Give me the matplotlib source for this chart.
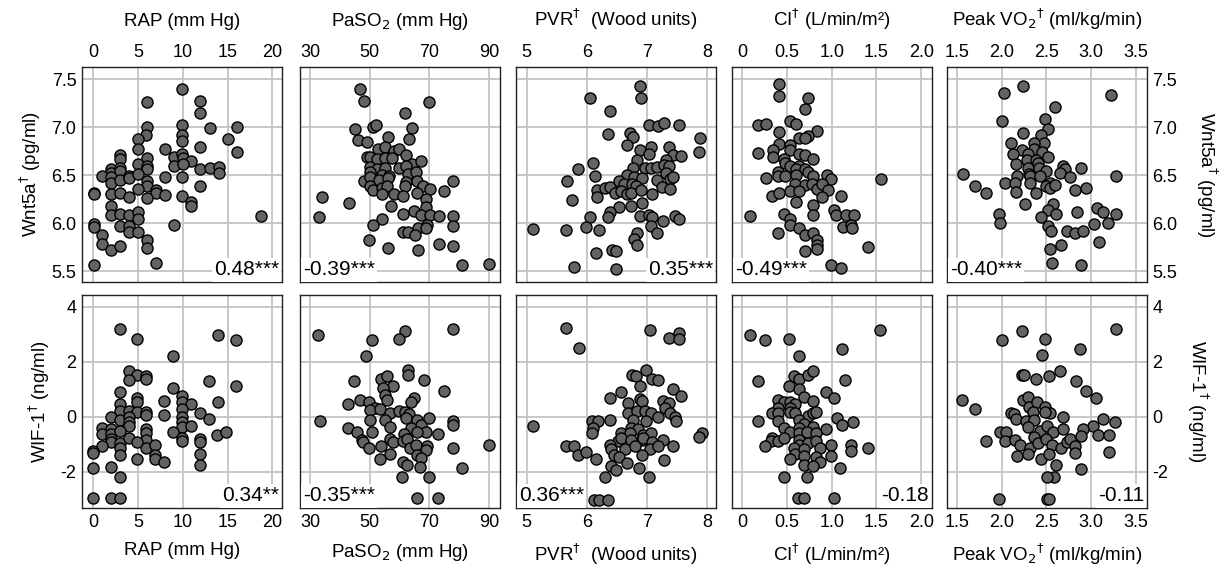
import matplotlib.pyplot as plt

plt.rcParams['font.family'] = ['Liberation Sans', 'DejaVu Sans']
plt.rcParams['axes.unicode_minus'] = False

# ---- Wnt5a row ----
rap_wnt_x = [9.93, 6.02, 11.97, 11.97, 6.02, 5.95, 5.02, 9.93, 9.93, 9.93, 13.0, 16.0, 15.0, 16.0,
             5.02, 7.99, 11.97, 3.05, 3.05, 6.02, 9.0, 9.93, 10.04, 10.97, 9.0, 10.04, 11.97, 13.0,
             14.0, 14.0, 5.02, 6.02, 6.02, 2.04, 2.04, 3.05, 3.05, 1.0, 2.04, 2.04, 3.05, 4.01, 4.01,
             5.02, 6.02, 6.02, 7.99, 9.93, 11.97, 5.02, 6.99, 6.99, 7.99, 9.93, 10.97, 10.97, 0.07,
             0.07, 2.04, 3.05, 4.01, 6.02, 2.04, 2.04, 3.05, 4.01, 5.02, 5.02, 3.05, 4.01, 4.01, 5.02,
             9.0, 6.02, 6.02, 0.07, 0.07, 1.0, 1.0, 2.04, 3.05, 6.99, 0.07, 18.7]
rap_wnt_y = [7.40, 7.26, 7.27, 7.15, 7.0, 6.92, 6.88, 7.02, 6.92, 6.86, 6.99, 7.0, 6.875, 6.74,
             6.77, 6.77, 6.79, 6.71, 6.67, 6.68, 6.69, 6.72, 6.68, 6.65, 6.60, 6.62, 6.56, 6.58,
             6.59, 6.52, 6.62, 6.60, 6.56, 6.56, 6.52, 6.57, 6.54, 6.49, 6.48, 6.42, 6.45, 6.49, 6.47,
             6.51, 6.44, 6.39, 6.48, 6.48, 6.39, 6.36, 6.35, 6.32, 6.29, 6.28, 6.22, 6.18, 6.32,
             6.30, 6.30, 6.32, 6.27, 6.26, 6.18, 6.09, 6.10, 6.09, 6.12, 6.04, 5.97, 5.97, 5.91, 5.91,
             5.98, 5.83, 5.74, 5.99, 5.96, 5.88, 5.79, 5.72, 5.76, 5.59, 5.57, 6.08]

pao2_wnt_x = [46.8, 48.2, 69.9, 61.9, 45.1, 51.0, 52.1, 64.0, 63.2, 46.0, 49.1, 56.0, 52.9, 55.1,
              58.0, 59.8, 62.1, 49.0, 50.2, 52.4, 55.1, 57.3, 64.0, 67.1, 50.0, 52.3, 55.1, 59.8,
              62.1, 50.0, 54.1, 56.5, 62.7, 65.5, 48.2, 50.2, 53.2, 56.0, 62.1, 65.8, 50.0, 51.1,
              54.1, 55.8, 61.9, 67.9, 70.2, 78.0, 75.0, 54.1, 58.0, 61.0, 65.8, 68.8, 33.9, 42.9,
              57.1, 68.8, 64.9, 61.0, 67.1, 70.2, 73.1, 77.7, 33.1, 54.1, 51.0, 69.0, 66.0, 77.7,
              61.0, 62.9, 65.3, 68.8, 49.9, 56.0, 66.0, 73.1, 77.7, 80.9, 90.0]
pao2_wnt_y = [7.40, 7.27, 7.26, 7.15, 6.98, 7.0, 7.02, 6.99, 6.88, 6.87, 6.85, 6.90, 6.77, 6.79,
              6.75, 6.77, 6.71, 6.69, 6.69, 6.67, 6.68, 6.68, 6.62, 6.65, 6.59, 6.56, 6.57, 6.57,
              6.60, 6.53, 6.50, 6.49, 6.51, 6.53, 6.44, 6.48, 6.45, 6.47, 6.43, 6.44, 6.39, 6.35,
              6.37, 6.39, 6.39, 6.39, 6.36, 6.44, 6.34, 6.30, 6.30, 6.28, 6.31, 6.25, 6.27, 6.21,
              6.18, 6.17, 6.13, 6.10, 6.09, 6.09, 6.08, 6.08, 6.07, 6.04, 5.98, 5.98, 5.95, 5.97,
              5.91, 5.91, 5.88, 5.95, 5.83, 5.74, 5.72, 5.79, 5.76, 5.57, 5.58]

pvr_wnt_x = [6.88, 6.90, 6.06, 6.39, 7.04, 7.19, 7.29, 7.53, 6.36, 6.72, 6.77, 6.67, 7.89, 7.86,
             6.89, 7.06, 7.04, 7.36, 7.43, 7.56, 6.83, 7.32, 6.11, 5.85, 6.76, 6.96, 7.06, 7.17,
             7.28, 7.36, 6.13, 5.67, 6.67, 6.78, 6.92, 7.17, 7.32, 7.39, 7.44, 6.17, 6.31, 6.39,
             6.54, 6.62, 6.75, 6.81, 6.47, 6.56, 6.67, 6.74, 6.90, 7.25, 7.39, 6.17, 5.75, 7.08,
             6.92, 6.54, 6.73, 6.39, 6.36, 6.06, 6.88, 7.04, 7.08, 7.47, 7.53, 7.27, 5.11, 5.65,
             5.99, 6.21, 7.06, 7.16, 6.83, 6.79, 6.84, 6.15, 6.42, 6.49, 5.79, 6.49]
pvr_wnt_y = [7.43, 7.30, 7.30, 7.17, 7.02, 7.01, 7.04, 7.02, 6.93, 6.94, 6.90, 6.81, 6.89, 6.74,
             6.76, 6.79, 6.72, 6.79, 6.71, 6.70, 6.66, 6.66, 6.63, 6.56, 6.58, 6.57, 6.58, 6.59,
             6.61, 6.60, 6.49, 6.44, 6.50, 6.48, 6.47, 6.45, 6.52, 6.46, 6.48, 6.35, 6.37, 6.38,
             6.44, 6.41, 6.41, 6.39, 6.31, 6.34, 6.30, 6.32, 6.35, 6.38, 6.36, 6.27, 6.24, 6.30,
             6.21, 6.17, 6.18, 6.12, 6.07, 6.07, 6.08, 6.09, 6.07, 6.08, 6.05, 6.02, 5.94, 5.93,
             5.96, 5.93, 5.97, 5.90, 5.90, 5.84, 5.77, 5.69, 5.72, 5.71, 5.55, 5.53]

ci_wnt_x = [0.41, 0.41, 0.74, 0.70, 0.18, 0.27, 0.53, 0.60, 0.41, 0.84, 0.74, 0.64, 0.70, 0.41,
            0.53, 0.53, 0.18, 0.34, 0.34, 0.64, 0.70, 0.79, 0.47, 0.48, 0.53, 0.64, 0.60, 0.70,
            0.74, 0.40, 0.40, 0.48, 0.27, 0.60, 0.79, 0.95, 0.99, 1.55, 0.59, 0.70, 0.78, 0.84,
            0.89, 0.54, 0.64, 0.96, 0.33, 0.41, 0.89, 1.10, 0.60, 0.79, 1.03, 1.05, 1.16, 1.25,
            0.79, 0.47, 0.53, 0.09, 0.53, 0.64, 1.13, 1.22, 1.23, 0.70, 0.79, 0.84, 0.84, 0.84,
            0.70, 0.40, 1.41, 0.99, 1.10]
ci_wnt_y = [7.45, 7.32, 7.30, 7.19, 7.02, 7.03, 7.06, 7.03, 6.95, 6.96, 6.91, 6.89, 6.89, 6.82,
            6.81, 6.76, 6.73, 6.76, 6.69, 6.72, 6.71, 6.67, 6.67, 6.63, 6.60, 6.60, 6.56, 6.56,
            6.53, 6.53, 6.49, 6.49, 6.47, 6.50, 6.49, 6.50, 6.46, 6.46, 6.41, 6.40, 6.41, 6.36,
            6.41, 6.34, 6.34, 6.35, 6.28, 6.31, 6.27, 6.28, 6.22, 6.19, 6.14, 6.09, 6.09, 6.09,
            6.09, 6.10, 6.05, 6.08, 5.98, 5.95, 5.96, 5.98, 5.95, 5.88, 5.90, 5.83, 5.77, 5.73,
            5.71, 5.90, 5.75, 5.57, 5.54]

vo2_wnt_x = [2.235, 2.03, 3.22, 2.60, 2.0, 2.49, 2.52, 2.235, 2.44, 2.47, 2.10, 2.36, 2.36, 2.23,
             2.13, 2.29, 2.45, 2.52, 2.16, 2.28, 2.38, 2.41, 2.29, 2.42, 2.50, 2.69, 2.71, 2.65,
             2.89, 1.57, 2.31, 2.32, 2.43, 2.17, 2.77, 3.28, 1.70, 2.04, 2.15, 2.32, 2.54, 1.82,
             2.16, 2.50, 2.54, 2.60, 2.82, 2.94, 2.38, 2.26, 2.57, 2.52, 2.61, 2.84, 3.07, 3.14,
             3.28, 1.97, 1.98, 2.44, 3.19, 3.03, 2.52, 2.55, 2.73, 2.82, 2.91, 2.66, 2.54, 3.09,
             2.56, 2.89]
vo2_wnt_y = [7.43, 7.35, 7.33, 7.21, 7.06, 7.08, 6.98, 6.94, 6.92, 6.83, 6.84, 6.83, 6.77, 6.76,
             6.72, 6.72, 6.74, 6.69, 6.62, 6.66, 6.66, 6.63, 6.58, 6.57, 6.54, 6.60, 6.56, 6.52,
             6.57, 6.51, 6.51, 6.49, 6.49, 6.49, 6.48, 6.49, 6.39, 6.42, 6.42, 6.42, 6.42, 6.32,
             6.33, 6.39, 6.37, 6.40, 6.35, 6.37, 6.31, 6.20, 6.20, 6.14, 6.10, 6.12, 6.16, 6.12,
             6.10, 6.10, 6.0, 6.07, 6.0, 5.99, 5.97, 5.92, 5.92, 5.90, 5.92, 5.77, 5.73, 5.81,
             5.59, 5.57]

# ---- WIF-1 row ----
rap_wif_x = [2.97, 4.94, 13.94, 15.91, 8.92, 3.98, 4.94, 5.95, 5.95, 3.98, 12.9, 15.91, 8.92, 2.97,
             4.94, 4.94, 7.92, 9.93, 9.93, 10.9, 13.94, 2.97, 2.97, 3.98, 4.94, 5.95, 5.95, 7.92,
             9.93, 11.9, 12.9, 2.0, 2.97, 3.98, 3.98, 3.98, 9.93, 9.93, 9.93, 10.9, 1.0, 1.0, 2.0,
             2.0, 2.0, 2.0, 2.97, 2.97, 2.97, 2.97, 5.95, 5.95, 5.95, 5.95, 3.98, 4.94, 4.94, 6.95,
             6.95, 6.95, 7.92, 8.92, 9.93, 9.93, 11.9, 11.9, 11.9, 11.9, 13.87, 14.87, 1.0, 0.0,
             0.0, 0.0, 2.0, 2.97, 0.0, 2.0, 2.97]
rap_wif_y = [3.18, 2.82, 2.99, 2.81, 2.22, 1.66, 1.52, 1.49, 1.36, 1.33, 1.30, 1.12, 1.03, 0.91,
             0.70, 0.55, 0.58, 0.75, 0.55, 0.45, 0.52, 0.46, 0.21, 0.21, 0.16, 0.16, 0.08, 0.08,
             0.30, 0.12, -0.08, -0.02, -0.12, -0.02, -0.18, -0.33, 0.0, -0.18, -0.36, -0.33, -0.42,
             -0.64, -0.45, -0.61, -0.81, -0.91, -0.51, -0.97, -1.13, -1.39, -0.45, -0.58, -0.85,
             -1.15, -0.79, -0.91, -1.52, -1.01, -1.39, -1.52, -1.64, -0.55, -0.79, -0.88, -0.81,
             -0.91, -1.37, -1.76, -0.67, -0.57, -1.05, -1.24, -1.33, -1.88, -1.82, -2.21, -2.97,
             -2.97, -2.97]

pao2_wif_x = [32.8, 61.8, 59.7, 50.7, 78.0, 48.8, 62.8, 62.8, 53.7, 55.8, 44.7, 68.0, 57.8, 54.6,
              74.7, 46.7, 42.8, 49.8, 55.2, 55.8, 64.8, 63.9, 51.8, 50.1, 53.5, 56.9, 59.7, 61.9,
              63.0, 50.1, 55.0, 56.7, 62.3, 65.9, 67.1, 69.9, 78.0, 78.0, 33.5, 42.8, 45.8, 50.7,
              63.9, 68.8, 72.7, 65.9, 61.4, 47.3, 47.9, 49.8, 56.9, 57.8, 61.2, 62.5, 53.7, 63.6,
              65.4, 69.1, 68.8, 90.0, 78.0, 56.7, 53.5, 65.9, 67.1, 61.2, 62.5, 66.8, 81.0, 60.8,
              69.9, 65.7, 72.7]
pao2_wif_y = [2.99, 3.13, 2.82, 2.79, 3.19, 2.22, 1.70, 1.52, 1.37, 1.49, 1.30, 1.33, 1.12, 1.03,
              0.93, 0.61, 0.45, 0.52, 0.79, 0.61, 0.69, 0.55, 0.33, 0.24, 0.30, 0.12, 0.21, 0.18,
              0.10, -0.12, -0.12, -0.36, -0.06, -0.12, -0.30, -0.06, -0.16, -0.30, -0.16, -0.40,
              -0.57, -0.55, -0.40, -0.55, -0.64, -0.55, -0.64, -0.85, -0.91, -1.13, -0.81, -0.91,
              -0.88, -0.81, -1.05, -1.13, -1.03, -1.05, -1.21, -1.01, -1.13, -1.37, -1.54, -1.39,
              -1.49, -1.64, -1.76, -1.82, -1.88, -2.18, -2.18, -2.95, -2.95]

pvr_wif_x = [5.66, 7.05, 7.53, 7.37, 7.54, 5.87, 6.98, 6.75, 6.81, 7.08, 7.19, 6.88, 7.43, 7.57,
             6.56, 6.38, 6.88, 6.91, 6.69, 7.26, 7.36, 7.30, 6.69, 6.84, 6.97, 7.07, 7.19, 7.39,
             7.47, 7.49, 6.76, 6.98, 6.08, 6.18, 6.11, 6.08, 6.38, 5.11, 6.74, 6.85, 6.56, 6.72,
             6.93, 7.07, 7.91, 7.87, 6.51, 6.56, 6.73, 6.91, 6.94, 7.08, 7.26, 6.38, 6.40, 6.63,
             6.80, 7.05, 7.19, 7.43, 5.65, 5.79, 5.86, 5.99, 6.15, 6.46, 6.54, 6.91, 7.28, 6.67,
             6.40, 6.49, 6.87, 6.31, 7.04, 6.12, 6.21, 6.35]
pvr_wif_y = [3.22, 3.17, 3.04, 2.85, 2.83, 2.50, 1.71, 1.51, 1.49, 1.37, 1.34, 1.12, 1.02, 0.76,
             0.90, 0.70, 0.63, 0.57, 0.49, 0.57, 0.49, 0.33, 0.12, 0.21, 0.21, 0.15, -0.01, 0.12,
             0.0, -0.16, -0.10, -0.16, -0.16, -0.16, -0.40, -0.59, -0.13, -0.32, -0.40, -0.46,
             -0.59, -0.59, -0.65, -0.59, -0.59, -0.73, -0.89, -0.77, -0.83, -0.85, -0.77, -0.93,
             -0.85, -1.01, -1.17, -1.17, -1.05, -1.17, -1.05, -1.05, -1.05, -1.07, -1.38, -1.28,
             -1.52, -1.38, -1.46, -1.38, -1.56, -1.68, -1.80, -1.93, -1.87, -2.21, -2.21, -3.02,
             -3.02, -3.02]

ci_wif_x = [0.09, 0.26, 0.52, 1.54, 1.12, 0.64, 0.18, 0.58, 0.64, 0.74, 0.79, 1.15, 0.52, 0.64,
            0.94, 1.03, 0.69, 0.79, 0.40, 0.47, 0.53, 0.59, 0.40, 0.53, 0.33, 0.40, 0.53, 0.59,
            0.74, 0.79, 0.83, 0.18, 0.40, 0.64, 0.69, 0.79, 1.06, 1.12, 1.24, 0.94, 0.47, 0.53,
            0.64, 0.64, 0.72, 0.83, 0.33, 0.32, 0.40, 0.47, 0.26, 0.64, 0.64, 0.74, 0.83, 0.87,
            0.99, 1.22, 1.22, 1.41, 0.58, 0.59, 0.69, 0.69, 0.53, 0.82, 0.87, 0.99, 0.69, 0.79,
            1.09, 0.47, 0.73, 0.63, 0.69, 1.03]
ci_wif_y = [2.99, 2.81, 2.83, 3.17, 2.45, 2.20, 1.29, 1.48, 1.36, 1.51, 1.65, 1.33, 1.12, 1.02,
            0.90, 0.69, 0.72, 0.58, 0.60, 0.54, 0.52, 0.48, 0.33, 0.33, 0.12, 0.14, 0.18, 0.12,
            0.04, 0.12, 0.16, -0.16, -0.16, -0.12, -0.28, -0.36, -0.06, -0.30, -0.18, -0.45,
            -0.42, -0.54, -0.42, -0.60, -0.54, -0.60, -0.76, -0.88, -0.90, -0.78, -1.05, -0.84,
            -1.02, -0.96, -0.90, -1.12, -1.02, -1.02, -1.24, -1.14, -1.14, -1.36, -1.17, -1.41,
            -1.53, -1.48, -1.63, -1.42, -1.77, -1.81, -1.87, -2.19, -2.19, -2.95, -2.95, -2.95]

vo2_wif_x = [2.23, 2.0, 2.48, 3.28, 2.88, 2.45, 2.23, 2.25, 2.38, 2.53, 2.65, 2.83, 2.94, 3.06,
             1.56, 1.70, 2.24, 2.29, 2.31, 2.39, 2.49, 2.54, 2.10, 2.14, 2.16, 2.27, 2.35, 2.36,
             2.49, 2.69, 3.13, 3.27, 3.02, 2.29, 1.98, 2.05, 2.43, 2.51, 2.58, 2.69, 2.91, 2.89,
             3.08, 3.20, 1.82, 2.04, 2.15, 2.21, 2.32, 2.36, 2.41, 2.50, 2.56, 2.66, 2.73, 2.77,
             2.82, 2.82, 2.17, 2.29, 2.44, 2.53, 2.61, 2.59, 2.51, 2.89, 3.20, 1.97, 2.51, 2.53]
vo2_wif_y = [3.13, 2.78, 2.83, 3.19, 2.47, 2.23, 1.51, 1.51, 1.36, 1.48, 1.66, 1.30, 0.92, 0.67,
             0.60, 0.30, 0.60, 0.72, 0.34, 0.52, 0.34, 0.12, 0.12, 0.10, -0.08, -0.14, 0.16, -0.12,
             0.16, -0.02, -0.08, -0.18, -0.33, -0.39, -0.54, -0.57, -0.53, -0.33, -0.57, -0.45,
             -0.45, -0.69, -0.65, -0.65, -0.90, -0.87, -0.83, -1.02, -1.13, -0.75, -0.96, -0.81,
             -1.02, -1.14, -0.93, -0.81, -1.05, -1.33, -1.41, -1.37, -1.53, -1.37, -1.77, -2.19,
             -2.19, -1.89, -1.27, -2.98, -2.98, -2.98]

x_labels = ['RAP (mm Hg)', 'PaSO$_2$ (mm Hg)', 'PVR$^{\\dagger}$  (Wood units)',
            'CI$^{\\dagger}$ (L/min/m\u00b2)', 'Peak VO$_2$$^{\\dagger}$ (ml/kg/min)']
x_ticks = [[0, 5, 10, 15, 20], [30, 50, 70, 90], [5, 6, 7, 8],
           [0, 0.5, 1.0, 1.5, 2.0], [1.5, 2.0, 2.5, 3.0, 3.5]]
x_ticklabels = [['0', '5', '10', '15', '20'], ['30', '50', '70', '90'], ['5', '6', '7', '8'],
                ['0', '0.5', '1.0', '1.5', '2.0'], ['1.5', '2.0', '2.5', '3.0', '3.5']]
x_lims = [(-1.23, 21.07), (26.65, 93.6), (4.82, 8.15), (-0.112, 2.12), (1.388, 3.627)]

y_labels = ['Wnt5a$^{\\dagger}$ (pg/ml)', 'WIF-1$^{\\dagger}$ (ng/ml)']
y_ticks = [[5.5, 6.0, 6.5, 7.0, 7.5], [-2, 0, 2, 4]]
y_ticklabels = [['5.5', '6.0', '6.5', '7.0', '7.5'], ['-2', '0', '2', '4']]
y_lims = [(5.39, 7.625), (-3.32, 4.43)]

corr_text = [['0.48***', '-0.39***', '0.35***', '-0.49***', '-0.40***'],
             ['0.34**', '-0.35***', '0.36***', '-0.18', '-0.11']]
corr_side = [['right', 'left', 'right', 'left', 'left'],
             ['right', 'left', 'left', 'right', 'right']]

data = [[(rap_wnt_x, rap_wnt_y), (pao2_wnt_x, pao2_wnt_y), (pvr_wnt_x, pvr_wnt_y),
         (ci_wnt_x, ci_wnt_y), (vo2_wnt_x, vo2_wnt_y)],
        [(rap_wif_x, rap_wif_y), (pao2_wif_x, pao2_wif_y), (pvr_wif_x, pvr_wif_y),
         (ci_wif_x, ci_wif_y), (vo2_wif_x, vo2_wif_y)]]

W, H = 1226, 568
fig = plt.figure(figsize=(W / 100, H / 100), dpi=100)

col_left = [82, 300, 516, 732, 947]
col_w = 200
row_box = [(67, 282), (295, 508)]  # top, bottom in pixels

for r in range(2):
    top, bot = row_box[r]
    for c in range(5):
        ax = fig.add_axes([col_left[c] / W, (H - bot) / H, col_w / W, (bot - top) / H])
        xs, ys = data[r][c]
        ax.scatter(xs, ys, s=64, facecolor='#636363', edgecolor='black', linewidth=1.0, zorder=3)
        ax.set_xlim(*x_lims[c])
        ax.set_ylim(*y_lims[r])
        ax.set_xticks(x_ticks[c])
        ax.set_xticklabels(x_ticklabels[c])
        ax.set_yticks(y_ticks[r])
        ax.set_yticklabels(y_ticklabels[r])
        ax.grid(True, color='#c4c4c4', linewidth=1.3, zorder=0)
        ax.set_axisbelow(True)
        for sp in ax.spines.values():
            sp.set_color('#222222')
            sp.set_linewidth(1.0)
        ax.tick_params(length=0, labelsize=13, pad=4)
        ax.tick_params(labelleft=(c == 0), labelright=(c == 4),
                       labeltop=(r == 0), labelbottom=(r == 1))
        if r == 0:
            ax.set_xlabel(x_labels[c], fontsize=13.5, labelpad=13)
            ax.xaxis.set_label_position('top')
        else:
            ax.set_xlabel(x_labels[c], fontsize=13.5, labelpad=8)
        if c == 0:
            ax.set_ylabel(y_labels[r], fontsize=13.5, labelpad=6)
        if c == 4:
            ax.yaxis.set_label_position('right')
            ax.set_ylabel(y_labels[r], fontsize=13.5, rotation=270, labelpad=30)
        if corr_side[r][c] == 'right':
            tx, ha = 0.985, 'right'
        else:
            tx, ha = 0.015, 'left'
        ax.text(tx, 0.012, corr_text[r][c], transform=ax.transAxes, ha=ha, va='bottom',
                fontsize=15, zorder=4,
                bbox=dict(facecolor='white', edgecolor='none', pad=1.5))

fig.savefig('out.png', dpi=100)
